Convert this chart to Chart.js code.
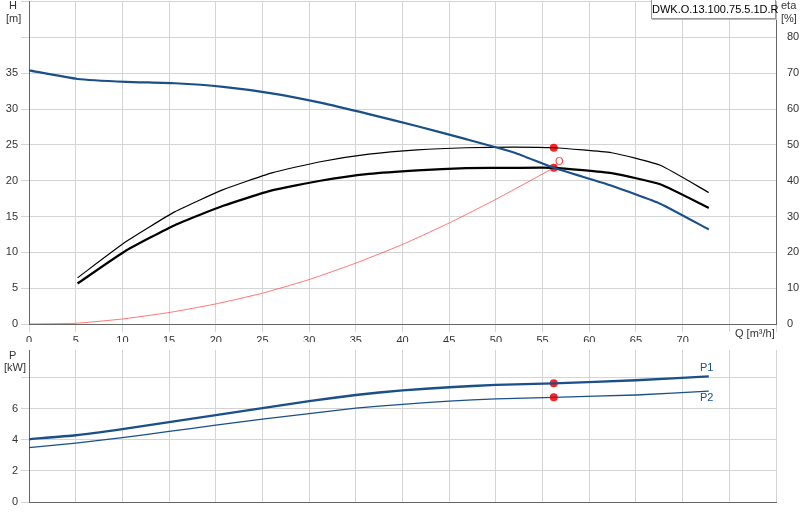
<!DOCTYPE html><html><head><meta charset="utf-8">
<script src="https://cdn.jsdelivr.net/npm/chart.js@4"></script>
<style>body{margin:0;background:#fff;width:800px;height:520px;overflow:hidden;font-family:"Liberation Sans",Arial}
#c1{position:absolute;left:0;top:-8px}#c2{position:absolute;left:0;top:340px}
#lg{position:absolute;left:651px;top:0;width:123px;height:18px;border:1px solid #999;border-top:none;font:11px "Liberation Sans";line-height:18px;text-align:center;box-shadow:1px 1px 0 #bbb;background:#fff}</style></head><body>
<canvas id="c1" width="800" height="350"></canvas><canvas id="c2" width="800" height="180"></canvas>
<div id="lg">DWK.O.13.100.75.5.1D.R</div>
<script>
const qH=[0,5.2,10.4,15.6,20.8,26,31.2,36.4,41.6,46.8,52,56.2,62.4,67.6,72.8];
const H=[35.4,34.2,33.8,33.6,33.1,32.2,30.9,29.3,27.6,25.8,23.9,21.8,19.3,16.8,13.2];
const qE=[5.2,10.4,15.6,20.8,26,31.2,36.4,41.6,46.8,52,56.2,62.4,67.6,72.8];
const eta1=[12.9,23,31.3,37.5,42.2,45.3,47.4,48.6,49.2,49.4,49.2,47.8,44.3,36.7];
const eta2=[11.3,20.5,27.6,33,37.3,40,41.9,42.9,43.5,43.6,43.6,42.1,39,32.4];
const qS=[0,5,10,15,20,25,30,35,40,45,50,56.2];
const sys=[0,0.1,0.7,1.6,2.8,4.3,6.2,8.5,11.1,14.1,17.4,21.8];
const qP=[0,5,10,15,20,25,30,35,40,45,50,56.2,65,72.8];
const P1=[4.05,4.3,4.7,5.15,5.6,6.05,6.5,6.9,7.2,7.4,7.55,7.65,7.85,8.1];
const P2=[3.5,3.8,4.15,4.55,4.95,5.35,5.7,6.05,6.3,6.5,6.65,6.75,6.9,7.15];
const dutyQ=56.2, dutyH=21.8, dutyEta=49.2, dutyP1=7.65, dutyP2=6.75;
const xy=(a,b)=>a.map((v,i)=>({x:v,y:b[i]}));
const font={family:"Liberation Sans",size:11};
const grid={color:'#d4d4d4',lineWidth:1};
const border={color:'#666'};
Chart.defaults.animation=false;
const ln=(d,c,w,ax)=>({data:d,borderColor:c,borderWidth:w,pointRadius:0,tension:0.15,yAxisID:ax||'y',fill:false});
const txt={id:'txt',afterDraw(ch,a,o){const c=ch.ctx;c.save();c.font='11px "Liberation Sans"';
 (o.items||[]).forEach(t=>{c.fillStyle=t.c||'#333';c.textAlign=t.a||'left';c.fillText(t.t,t.x,t.y);});c.restore();}};
new Chart(document.getElementById('c1'),{type:'line',plugins:[txt],data:{datasets:[
 ln(xy(qH,H),'#1a4f8a',2.2),
 ln(xy(qE,eta1),'#000',1.2,'y2'),
 ln(xy(qE,eta2),'#000',2.2,'y2'),
 ln(xy(qS,sys),'#ff5050',0.8),
 {data:[{x:dutyQ,y:dutyH}],pointRadius:4,pointBackgroundColor:'#ff2020',pointBorderWidth:0,showLine:false},
 {data:[{x:dutyQ,y:dutyEta}],yAxisID:'y2',pointRadius:4,pointBackgroundColor:'#ff2020',pointBorderWidth:0,showLine:false}
]},options:{responsive:false,layout:{padding:0},plugins:{legend:{display:false},tooltip:{enabled:false},
 txt:{items:[{t:'H',x:9,y:17},{t:'[m]',x:6,y:30},{t:'eta',x:781,y:17},{t:'[%]',x:781,y:30},{t:'Q [m³/h]',x:735,y:345},{t:'O',x:555,y:173,c:'#ff4040'}]}},
 scales:{x:{type:'linear',min:0,max:80,ticks:{stepSize:5,font,color:'#333',padding:2,callback:v=>v<=70?v:''},grid,border,
   afterFit(s){s.height=18}},
  y:{min:0,max:45,ticks:{stepSize:5,font,color:'#333',callback:v=>v<=35?v:''},grid,border,afterFit(s){s.width=29}},
  y2:{position:'right',min:0,max:90,ticks:{stepSize:10,font,color:'#333',callback:v=>v<=80?v:''},grid:{display:false},border,afterFit(s){s.width=24}}}}});
new Chart(document.getElementById('c2'),{type:'line',plugins:[txt],data:{datasets:[
 ln(xy(qP,P1),'#1a4f8a',2.4),ln(xy(qP,P2),'#1a4f8a',1.3),
 {data:[{x:dutyQ,y:dutyP1},{x:dutyQ,y:dutyP2}],pointRadius:4,pointBackgroundColor:'#ff2020',pointBorderWidth:0,showLine:false}
]},options:{responsive:false,layout:{padding:{top:10,bottom:18,right:24}},plugins:{legend:{display:false},tooltip:{enabled:false},
 txt:{items:[{t:'P',x:9,y:19},{t:'[kW]',x:4,y:31},{t:'P1',x:700,y:31,c:'#1a4f8a'},{t:'P2',x:700,y:61,c:'#1a4f8a'}]}},
 scales:{x:{type:'linear',min:0,max:80,ticks:{display:false,stepSize:5},grid:{color:'#d4d4d4',tickLength:0},border,afterFit(s){s.height=0}},
  y:{min:0,max:9.8,ticks:{stepSize:2,font,color:'#333',callback:v=>v<=6?v:''},grid,border,afterFit(s){s.width=29},
   afterBuildTicks(s){s.ticks=[0,2,4,6,8].map(v=>({value:v}))}}}}});
</script></body></html>
